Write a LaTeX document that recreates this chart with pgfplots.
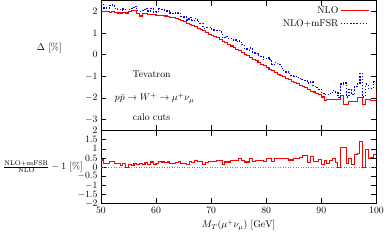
\documentclass[border=0pt]{standalone}
\usepackage{pgfplots}
\pgfplotsset{compat=1.18}
\usepackage{pgfplotstable}

\pgfplotstableread{
x nlo mfsr r
50.0 1.97 2.36 0.39
50.5 1.97 2.15 0.18
51.0 1.97 2.15 0.18
51.5 1.95 2.27 0.32
52.0 1.97 2.29 0.32
52.5 1.95 2.13 0.18
53.0 1.92 2.10 0.18
53.5 1.92 2.02 0.10
54.0 1.94 2.12 0.18
54.5 1.92 1.89 -0.03
55.0 1.97 2.09 0.12
55.5 2.02 2.12 0.10
56.0 2.02 2.22 0.20
56.5 1.90 2.02 0.12
57.0 1.78 2.00 0.22
57.5 1.88 2.03 0.15
58.0 1.88 2.13 0.25
58.5 1.86 2.01 0.15
59.0 1.86 2.14 0.28
59.5 1.84 1.96 0.12
60.0 1.82 2.00 0.18
60.5 1.82 2.12 0.30
61.0 1.80 2.08 0.28
61.5 1.78 2.03 0.25
62.0 1.74 2.02 0.28
62.5 1.72 1.92 0.20
63.0 1.70 1.90 0.20
63.5 1.68 1.93 0.25
64.0 1.62 1.92 0.30
64.5 1.58 1.76 0.18
65.0 1.52 1.74 0.22
65.5 1.45 1.60 0.15
66.0 1.40 1.70 0.30
66.5 1.35 1.58 0.23
67.0 1.30 1.67 0.37
67.5 1.22 1.52 0.30
68.0 1.15 1.45 0.30
68.5 1.10 1.22 0.12
69.0 1.02 1.25 0.23
69.5 0.95 1.25 0.30
70.0 0.88 1.18 0.30
70.5 0.82 1.12 0.30
71.0 0.78 1.12 0.34
71.5 0.70 1.04 0.34
72.0 0.62 0.78 0.16
72.5 0.55 0.83 0.28
73.0 0.48 0.76 0.28
73.5 0.40 0.74 0.34
74.0 0.33 0.67 0.34
74.5 0.25 0.59 0.34
75.0 0.18 0.63 0.45
75.5 0.12 0.46 0.34
76.0 0.02 0.30 0.28
76.5 -0.06 0.22 0.28
77.0 -0.14 0.31 0.45
77.5 -0.22 0.08 0.30
78.0 -0.28 0.06 0.34
78.5 -0.36 -0.02 0.34
79.0 -0.44 -0.10 0.34
79.5 -0.52 -0.22 0.30
80.0 -0.60 -0.15 0.45
80.5 -0.68 -0.23 0.45
81.0 -0.75 -0.45 0.30
81.5 -0.82 -0.37 0.45
82.0 -0.90 -0.42 0.48
82.5 -0.98 -0.53 0.45
83.0 -1.02 -0.72 0.45
83.5 -1.10 -0.80 0.45
84.0 -1.16 -0.88 0.39
84.5 -1.22 -0.95 0.39
85.0 -1.28 -1.00 0.45
85.5 -1.34 -1.05 0.45
86.0 -1.40 -1.10 0.53
86.5 -1.46 -1.15 0.62
87.0 -1.52 -1.20 0.62
87.5 -1.60 -1.30 0.27
88.0 -1.68 -1.25 0.59
88.5 -1.72 -1.45 0.30
89.0 -1.78 -1.52 0.30
89.5 -1.82 -1.60 0.40
90.0 -1.95 -1.80 0.13
90.5 -2.12 -1.85 0.36
91.0 -2.05 -1.83 0.22
91.5 -2.05 -1.80 0.36
92.0 -2.05 -1.65 0.45
92.5 -2.05 -1.75 0.27
93.0 -2.05 -1.98 0.00
93.5 -1.90 -1.35 1.07
94.0 -2.28 -1.30 1.07
94.5 -2.28 -1.95 0.18
95.0 -2.16 -1.60 0.45
95.5 -2.16 -1.85 0.13
96.0 -2.16 -1.45 0.68
96.5 -1.98 -1.35 0.77
97.0 -1.98 -0.86 1.42
97.5 -2.28 -1.95 0.00
98.0 -2.05 -1.35 0.99
98.5 -2.05 -1.55 0.45
99.0 -2.13 -1.55 0.53
99.5 -2.13 -1.25 0.68
100.0 -1.70 -1.15 0.68
}\data

\begin{document}
\begin{tikzpicture}
\pgfplotsset{
  every axis/.append style={
    scale only axis, width=283.5pt,
    xmin=50, xmax=100,
    xtick={50,60,...,100},
    tick align=inside, xtick pos=both, ytick pos=both,
    major tick length=5.5pt,
    axis line style={line width=0.8pt},
    every tick/.style={line width=0.7pt, black},
  },
}
\begin{axis}[
  name=top,
  height=134pt,
  ymin=-3.5, ymax=2.5,
  ytick={-3,-2,...,2},
  xticklabels={},
  ylabel={$\Delta\ [\%]$},
  ylabel style={rotate=-90, at={(axis description cs:-0.187,0.634)}, anchor=center},
  legend style={draw=none, fill=none, at={(axis description cs:0.985,0.985)}, anchor=north east, row sep=1pt},
  legend cell align=right,
  legend plot pos=right,
  legend image code/.code={\draw[#1] (0cm,0cm) -- (1cm,0cm);},
  clip mode=individual,
]
\addplot[red, line width=1.1pt, const plot] table[x=x, y=nlo] {\data};
\addlegendentry{NLO}
\addplot[blue, line width=1.3pt, dash pattern=on 1.3pt off 1.9pt, const plot] table[x=x, y=mfsr] {\data};
\addlegendentry{NLO+mFSR}
\node at (axis cs:59.2,-0.9) {Tevatron};
\node at (axis cs:59.75,-2.02) {$p\bar{p}\to W^+\to\mu^+\nu_\mu$};
\node at (axis cs:59.2,-2.87) {calo cuts};
\end{axis}
\begin{axis}[
  at={(top.south west)}, anchor=north west,
  height=75pt,
  ymin=-2, ymax=2,
  ytick={-2,-1.5,...,2},
  xlabel={$M_T(\mu^+\nu_\mu)\ [\mathrm{GeV}]$},
  ylabel={$\frac{\mathrm{NLO{+}mFSR}}{\mathrm{NLO}}-1\ [\%]$},
  ylabel style={rotate=-90, at={(axis description cs:-0.21,0.5)}, anchor=center},
]
\addplot[gray, dotted, line width=0.6pt] coordinates {(50,0) (100,0)};
\addplot[red, line width=1.1pt, const plot] table[x=x, y=r] {\data};
\end{axis}
\end{tikzpicture}
\end{document}
